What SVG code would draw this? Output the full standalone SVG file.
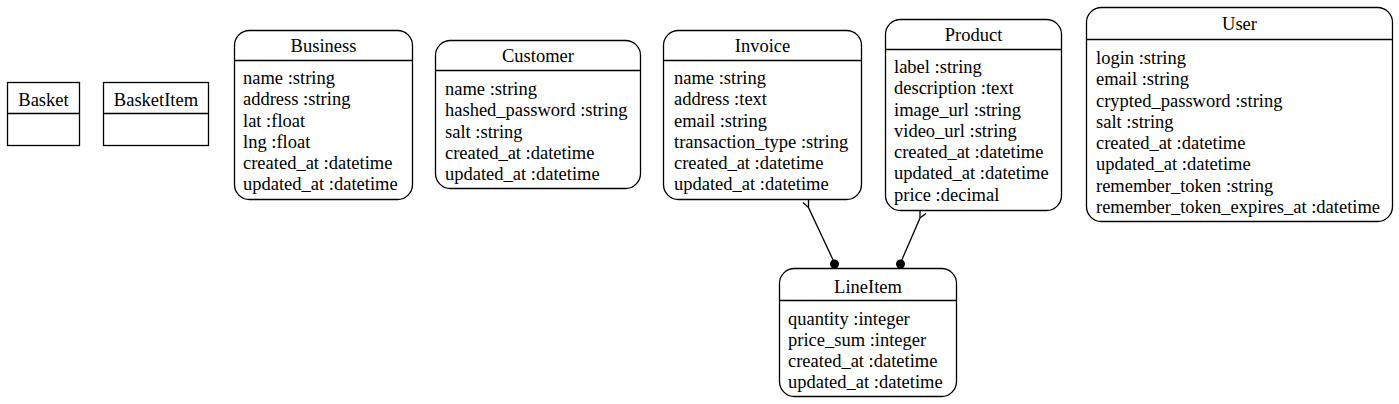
<svg xmlns="http://www.w3.org/2000/svg" width="1399" height="404" viewBox="0 0 1399 404">
<style>
.box{fill:#fff;stroke:#000;stroke-width:1.3}
.sep{stroke:#000;stroke-width:1.3}
text{font-family:"Liberation Serif","Times New Roman",serif;font-size:18.5px;fill:#000}
.t{text-anchor:middle}
.edge{stroke:#000;stroke-width:1.3;fill:none}
</style>
<rect width="1399" height="404" fill="#fff"/>
<g id="Basket">
<rect class="box" x="7.5" y="82.5" width="72" height="63"/>
<line class="sep" x1="7.5" y1="113.5" x2="79.5" y2="113.5"/>
<text class="t" x="43.5" y="105.5">Basket</text>
</g>
<g id="BasketItem">
<rect class="box" x="103.5" y="82.5" width="105" height="63"/>
<line class="sep" x1="103.5" y1="113.5" x2="208.5" y2="113.5"/>
<text class="t" x="156" y="105.5">BasketItem</text>
</g>
<g id="Business">
<rect class="box" x="234.5" y="30.5" width="178" height="169" rx="15"/>
<line class="sep" x1="234.5" y1="60.5" x2="412.5" y2="60.5"/>
<text class="t" x="323.5" y="52">Business</text>
<text x="243" y="84">name :string</text>
<text x="243" y="105">address :string</text>
<text x="243" y="126.5">lat :float</text>
<text x="243" y="147.5">lng :float</text>
<text x="243" y="169">created_at :datetime</text>
<text x="243" y="190">updated_at :datetime</text>
</g>
<g id="Customer">
<rect class="box" x="435.5" y="40.5" width="205" height="148" rx="15"/>
<line class="sep" x1="435.5" y1="70.5" x2="640.5" y2="70.5"/>
<text class="t" x="538" y="62">Customer</text>
<text x="445" y="95">name :string</text>
<text x="445" y="116">hashed_password :string</text>
<text x="445" y="137.5">salt :string</text>
<text x="445" y="158.5">created_at :datetime</text>
<text x="445" y="180">updated_at :datetime</text>
</g>
<g id="Invoice">
<rect class="box" x="663.5" y="30.5" width="198" height="169" rx="15"/>
<line class="sep" x1="663.5" y1="60.5" x2="861.5" y2="60.5"/>
<text class="t" x="762.5" y="52">Invoice</text>
<text x="674" y="84">name :string</text>
<text x="674" y="105">address :text</text>
<text x="674" y="126.5">email :string</text>
<text x="674" y="147.5">transaction_type :string</text>
<text x="674" y="169">created_at :datetime</text>
<text x="674" y="190">updated_at :datetime</text>
</g>
<g id="Product">
<rect class="box" x="885.5" y="19.5" width="176" height="191" rx="15"/>
<line class="sep" x1="885.5" y1="49.5" x2="1061.5" y2="49.5"/>
<text class="t" x="973.5" y="41">Product</text>
<text x="894" y="73">label :string</text>
<text x="894" y="94">description :text</text>
<text x="894" y="115.5">image_url :string</text>
<text x="894" y="136.5">video_url :string</text>
<text x="894" y="158">created_at :datetime</text>
<text x="894" y="179">updated_at :datetime</text>
<text x="894" y="200.5">price :decimal</text>
</g>
<g id="User">
<rect class="box" x="1086.5" y="7.5" width="306" height="214" rx="15"/>
<line class="sep" x1="1086.5" y1="39.5" x2="1392.5" y2="39.5"/>
<text class="t" x="1239.5" y="30">User</text>
<text x="1096" y="64">login :string</text>
<text x="1096" y="85">email :string</text>
<text x="1096" y="106.5">crypted_password :string</text>
<text x="1096" y="127.5">salt :string</text>
<text x="1096" y="149">created_at :datetime</text>
<text x="1096" y="170">updated_at :datetime</text>
<text x="1096" y="191.5">remember_token :string</text>
<text x="1096" y="212.5">remember_token_expires_at :datetime</text>
</g>
<g id="LineItem">
<rect class="box" x="779.5" y="268.5" width="177" height="128" rx="15"/>
<line class="sep" x1="779.5" y1="300.5" x2="956.5" y2="300.5"/>
<text class="t" x="868" y="293">LineItem</text>
<text x="788" y="324.5">quantity :integer</text>
<text x="788" y="345.5">price_sum :integer</text>
<text x="788" y="367">created_at :datetime</text>
<text x="788" y="388">updated_at :datetime</text>
</g>
<g id="connectors">
<path class="edge" d="M808.5,200 L808.5,207.5 L834.5,263"/>
<path class="edge" d="M803,202.5 L808.5,207.5"/>
<circle cx="834.5" cy="264" r="4.5" fill="#000"/>
<path class="edge" d="M920,211 L920,218 L900.5,263"/>
<path class="edge" d="M926,213.5 L920,218"/>
<circle cx="900.5" cy="264" r="4.5" fill="#000"/>
</g>
</svg>
